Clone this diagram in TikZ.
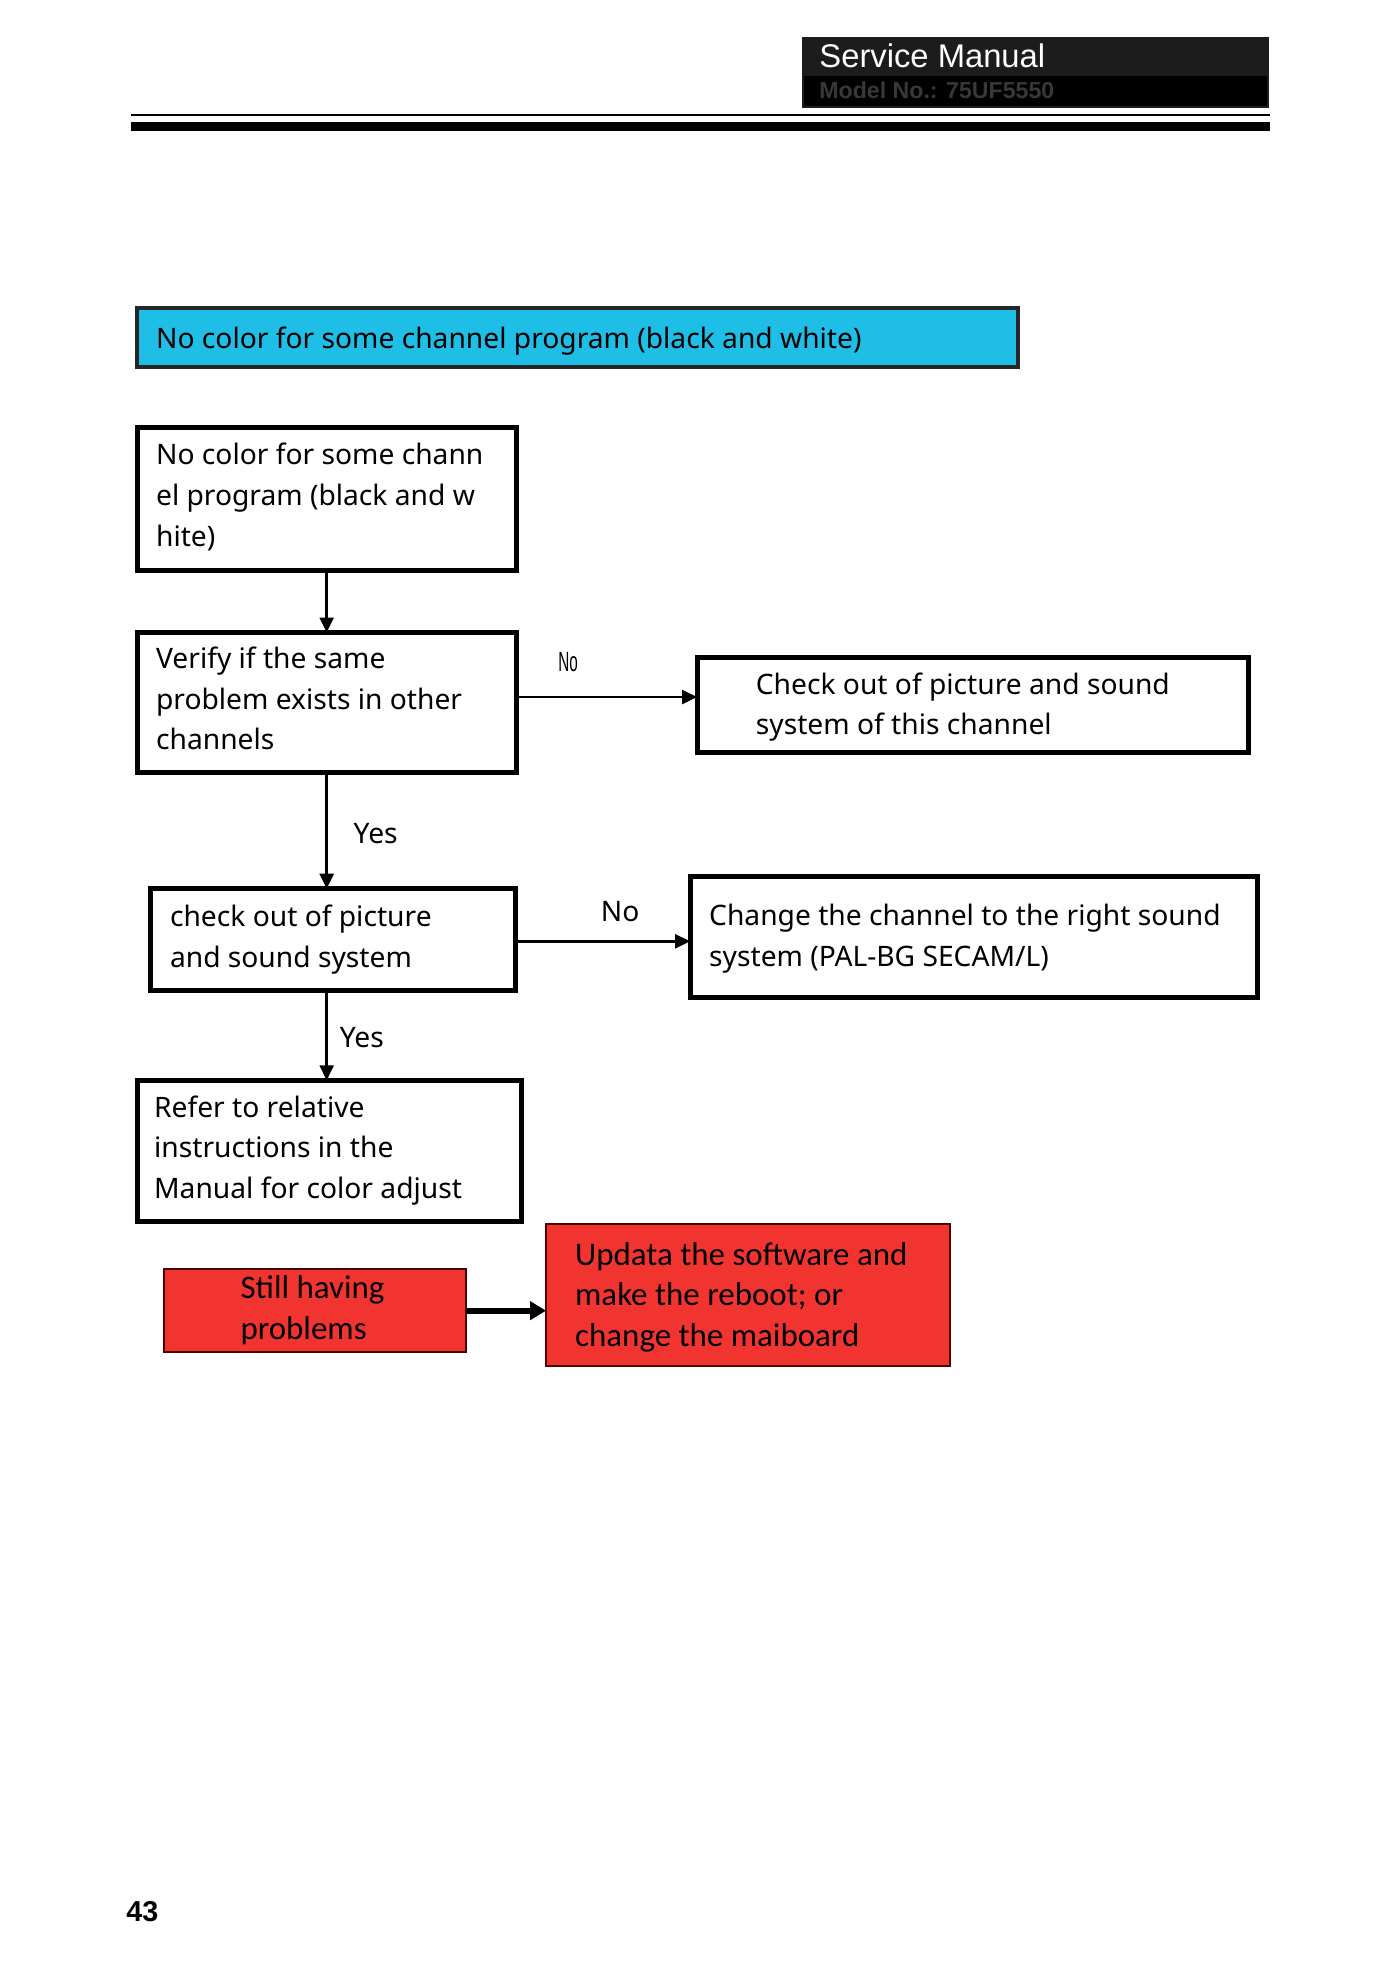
\documentclass[tikz,border=0pt]{standalone}
\usepackage{fontspec}
\usepackage{graphicx}
\setmainfont{Noto Sans}
\newfontfamily\arialfont{Liberation Sans}
\newfontfamily\calfont{Carlito}
\usetikzlibrary{arrows.meta}
\definecolor{cyanbox}{HTML}{1EBEE6}
\definecolor{redbox}{HTML}{F23431}
\definecolor{hdrgrey}{HTML}{1C1C1C}
\definecolor{modelgrey}{HTML}{383838}
\begin{document}
\begin{tikzpicture}[x=1pt,y=-1pt,
  flowbox/.style={draw=black, line width=5pt, anchor=north west, inner sep=0pt, outer sep=0pt},
  redflow/.style={draw=black!70!red, line width=2pt, fill=redbox, anchor=north west, inner sep=0pt, outer sep=0pt},
  titlebox/.style={draw=black!85, line width=4pt, fill=cyanbox, anchor=north west, inner sep=0pt, outer sep=0pt},
  txt/.style={anchor=base west, inner sep=0pt, font=\fontsize{28.4}{41}\selectfont},
  redtxt/.style={anchor=base west, inner sep=0pt, font=\calfont\fontsize{33.2}{41}\selectfont},
  arr/.style={line width=2.5pt, -{Triangle[length=15pt,width=14pt]}},
  thickarr/.style={line width=6pt, -{Triangle[length=16pt,width=18pt]}}]
\useasboundingbox (0,0) rectangle (1400,1982);
\fill[white] (0,0) rectangle (1400,1982);
\begin{scope}[scale=0.993, transform shape]
% header
\fill[hdrgrey] (808,37) rectangle (1278,109);
\fill[black] (810,77) rectangle (1276,107);
\node[anchor=base west, inner sep=0pt, text=white, font=\arialfont\fontsize{33}{40}\selectfont] (hdr) at (825,68) {Service Manual};
\node[anchor=base west, inner sep=0pt, text=modelgrey, font=\arialfont\bfseries\fontsize{23.3}{30}\selectfont] (model) at (825,99) {Model No.: 75UF5550};
\draw[line width=2pt] (132,116) -- (1279,116);
\fill[black] (132,123) rectangle (1279,132);

% title
\node[titlebox, minimum width=887pt, minimum height=60pt] (title) at (138,310) {};
\node[txt] (t0) at (157,351) {No color for some channel program (black and white)};

% boxes
\node[flowbox, minimum width=382pt, minimum height=144pt] (b1) at (138,431) {};
\node[txt] (t1) at (157,468) {\vtop{\hbox{No color for some chann}\hbox{el program (black and w}\hbox{hite)}}};

\node[flowbox, minimum width=382pt, minimum height=141pt] (b2) at (138,637) {};
\node[txt] (t2) at (157,673) {\vtop{\hbox{Verify if the same}\hbox{problem exists in other}\hbox{channels}}};

\node[flowbox, minimum width=555pt, minimum height=96pt] (b3) at (702,662) {};
\node[txt] (t3) at (761,699) {\vtop{\hbox{Check out of picture and sound}\hbox{system of this channel}}};

\node[flowbox, minimum width=367pt, minimum height=102pt] (b4) at (152,895) {};
\node[txt] (t4) at (171,933) {\vtop{\hbox{check out of picture}\hbox{and sound system}}};

\node[flowbox, minimum width=571pt, minimum height=122pt] (b5) at (695,883) {};
\node[txt] (t5) at (714,932) {\vtop{\hbox{Change the channel to the right sound}\hbox{system (PAL-BG SECAM/L)}}};

\node[flowbox, minimum width=387pt, minimum height=142pt] (b6) at (138,1088) {};
\node[txt] (t6) at (155,1125) {\vtop{\hbox{Refer to relative}\hbox{instructions in the}\hbox{Manual for color adjust}}};

\node[redflow, minimum width=304pt, minimum height=84pt] (b7) at (165,1278) {};
\node[redtxt] (t7) at (242,1308) {\vtop{\hbox{Still having}\hbox{problems}}};

\node[redflow, minimum width=407pt, minimum height=143pt] (b8) at (550,1233) {};
\node[redtxt] (t8) at (579,1274) {\vtop{\hbox{Updata the software and}\hbox{make the reboot; or}\hbox{change the maiboard}}};

% labels
\node[anchor=base west, inner sep=0pt, font=\arialfont\fontsize{28}{30}\selectfont] (lno1) at (562,676) {\scalebox{0.55}[1]{No}};
\node[txt] (lyes1) at (356,849) {Yes};
\node[txt] (lno2) at (605,928) {No};
\node[txt] (lyes2) at (342,1055) {Yes};

% connectors
\coordinate (yA) at (0,702);
\coordinate (yB) at (0,948);
\draw[arr] (b1.south) -- (b2.north);
\draw[arr] (b2.east |- yA) -- (b3.west |- yA);
\draw[arr] (b2.south) -- (b4.north -| b2.south);
\draw[arr] (b4.east |- yB) -- (b5.west |- yB);
\draw[arr] (b4.south -| b1.south) -- (b6.north -| b1.south);
\draw[thickarr] (b7.east) -- (b8.west |- b7.east);

% page number
\node[anchor=base west, inner sep=0pt, font=\arialfont\bfseries\fontsize{29}{32}\selectfont] (page) at (127,1935) {43};
\end{scope}
\end{tikzpicture}
\end{document}
